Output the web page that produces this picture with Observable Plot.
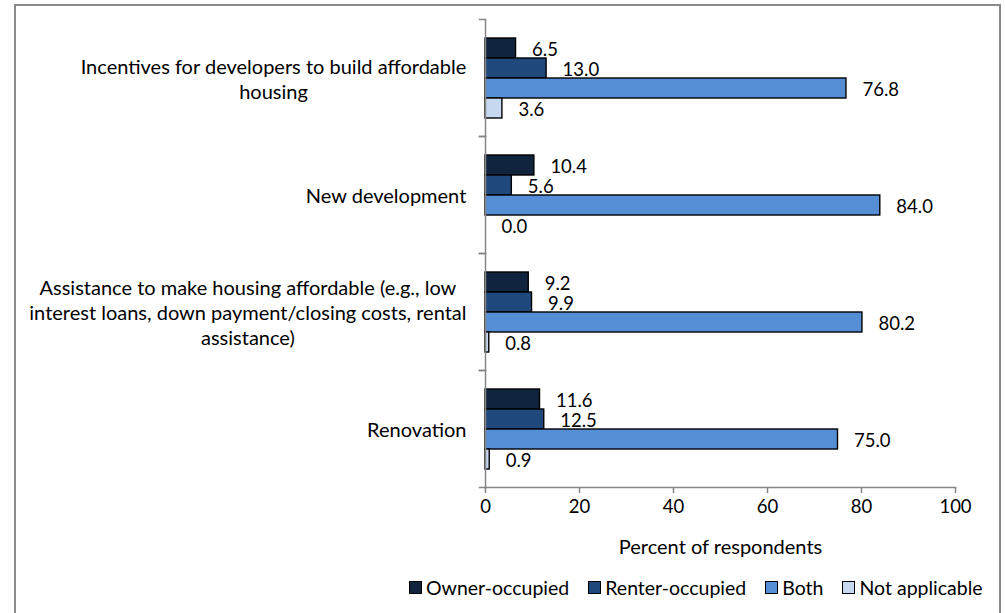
<!DOCTYPE html>
<html>
<head>
<meta charset="utf-8">
<script src="https://cdn.jsdelivr.net/npm/d3@7"></script>
<script src="https://cdn.jsdelivr.net/npm/@observablehq/plot@0.6"></script>
<style>
  html, body { margin: 0; padding: 0; background: #fff; }
  body { width: 1005px; height: 613px; position: relative; overflow: hidden; font-family: Lato, "Open Sans", sans-serif; }
  #frame { position: absolute; left: 14px; top: 4px; width: 987px; height: 640px; border: 2px solid #8a8a8a; box-sizing: border-box; }
  #chart { position: absolute; left: 0; top: 0; }
  #legend { position: absolute; top: 575px; left: 409px; height: 24px; display: flex; align-items: center; font-size: 19.5px; color: #000; white-space: nowrap; }
  #legend .item { display: flex; align-items: center; margin-right: 19px; }
  #legend .sw { width: 11px; height: 11px; border: 1px solid #000; margin-right: 4px; }
</style>
</head>
<body>
<div id="frame"></div>
<div id="chart"></div>
<div id="legend"></div>
<script>
const categories = [
  "Incentives for developers to build affordable\nhousing",
  "New development",
  "Assistance to make housing affordable (e.g., low\ninterest loans, down payment/closing costs, rental\nassistance)",
  "Renovation"
];
const series = ["Owner-occupied", "Renter-occupied", "Both", "Not applicable"];
const ownerOccupied = [6.5, 10.4, 9.2, 11.6];
const renterOccupied = [13.0, 5.6, 9.9, 12.5];
const both = [76.8, 84.0, 80.2, 75.0];
const notApplicable = [3.6, 0.0, 0.8, 0.9];
const xTicks = [0, 20, 40, 60, 80, 100];
const colors = ["#10243e", "#1f497d", "#558ed5", "#c6d9f1"];

const seriesValues = [ownerOccupied, renterOccupied, both, notApplicable];
const data = [];
categories.forEach((c, i) => {
  series.forEach((s, j) => data.push({category: c, series: s, value: seriesValues[j][i]}));
});

const FONT = "Lato, 'Open Sans', sans-serif";
const LABEL_FS = 20;
const ctx = document.createElement("canvas").getContext("2d");
ctx.font = `${LABEL_FS}px Lato`;
const widthOf = (label) => Math.max(...label.split("\n").map(l => ctx.measureText(l).width));

const labelMarks = categories.map(c => Plot.text([{category: c}], {
  fy: "category",
  text: d => d.category,
  frameAnchor: "left",
  textAnchor: "middle",
  lineAnchor: "middle",
  lineHeight: 1.25,
  fontSize: LABEL_FS,
  dx: -(19 + widthOf(c) / 2),
  fill: "#000"
}));

const chart = Plot.plot({
  width: 1005,
  height: 560,
  marginLeft: 485,
  marginRight: 50,
  marginTop: 18,
  marginBottom: 72,
  style: {fontFamily: FONT, fontSize: "18px", color: "#000", background: "transparent", overflow: "visible"},
  x: {domain: [0, 100]},
  fy: {domain: categories, padding: 0, axis: null},
  y: {domain: series, paddingInner: 0, paddingOuter: 0.8, axis: null},
  color: {domain: series, range: colors},
  marks: [
    Plot.barX(data, {x: "value", y: "series", fy: "category", fill: "series", stroke: "#000", strokeWidth: 1.4}),
    Plot.text(data, {x: "value", y: "series", fy: "category", text: d => d.value.toFixed(1), textAnchor: "start", dx: 16, dy: 2, fontSize: 18.5, fill: "#000"}),
    Plot.ruleX([0], {stroke: "#868686", strokeWidth: 1.5}),
    Plot.frame({anchor: "top", insetLeft: -6, insetRight: 470, stroke: "#868686", strokeWidth: 1.5}),
    Plot.frame({anchor: "bottom", insetLeft: -6, insetRight: 470, stroke: "#868686", strokeWidth: 1.5}),
    Plot.frame({anchor: "bottom", facetAnchor: "bottom", stroke: "#868686", strokeWidth: 1.5}),
    Plot.axisX({ticks: xTicks, tickSize: 6, tickPadding: 6, stroke: "#868686", strokeWidth: 1.5, fill: "#000", fontSize: 18.5,
      label: null}),
    Plot.axisX({ticks: [], tickSize: 0, label: "Percent of respondents", labelAnchor: "center", labelOffset: 66, labelArrow: "none", fontSize: 20, fill: "#000"})
  ].concat(labelMarks)
});
document.getElementById("chart").appendChild(chart);

const legend = document.getElementById("legend");
series.forEach((s, j) => {
  const item = document.createElement("div");
  item.className = "item";
  const sw = document.createElement("div");
  sw.className = "sw";
  sw.style.background = colors[j];
  const t = document.createElement("span");
  t.textContent = s;
  item.appendChild(sw);
  item.appendChild(t);
  legend.appendChild(item);
});
</script>
</body>
</html>
